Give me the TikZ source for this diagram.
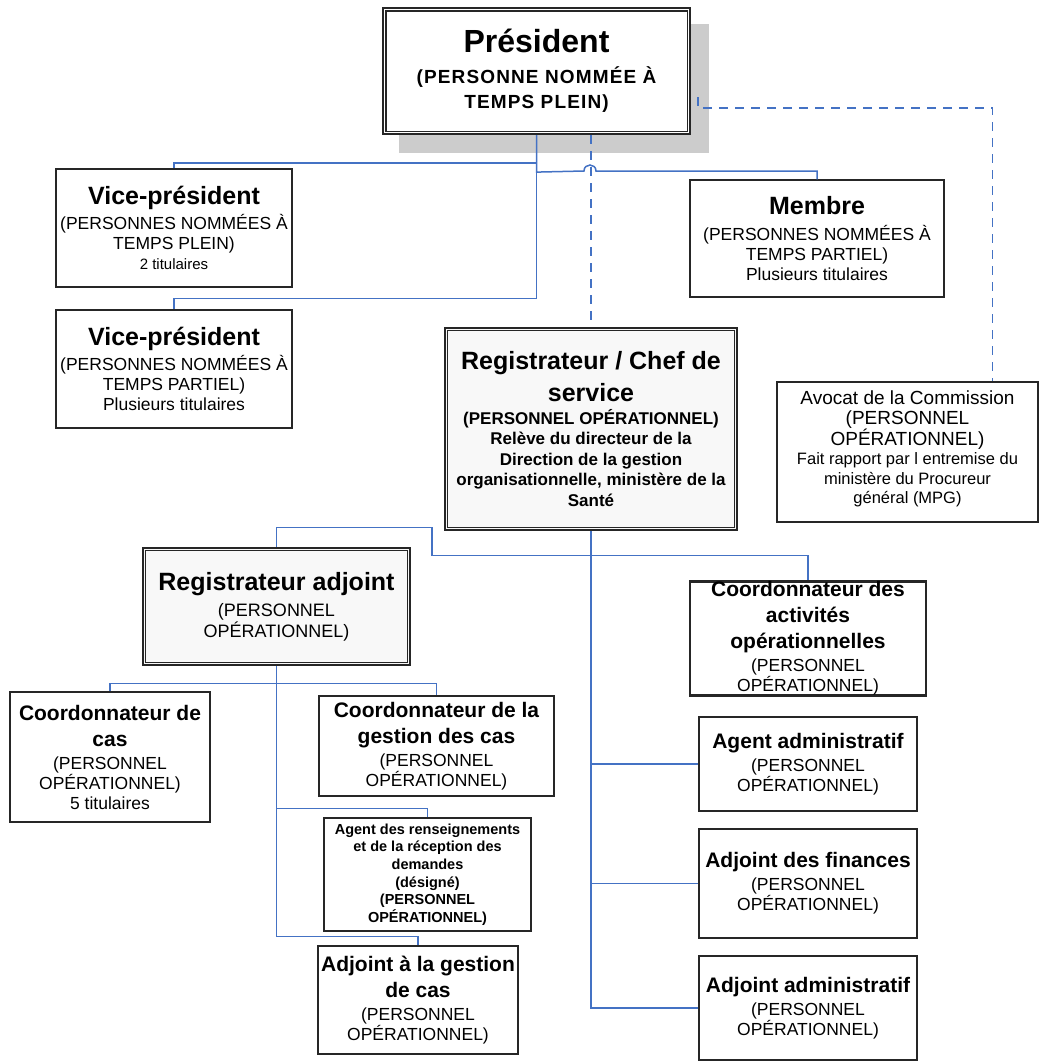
\documentclass[tikz,border=0pt]{standalone}
\usepackage{fontspec}
\setmainfont{Liberation Sans}
\usepackage{tikz}
\usetikzlibrary{calc,positioning}
\definecolor{linkblue}{RGB}{68,114,196}
\definecolor{shadowgray}{RGB}{204,204,204}
\definecolor{paleface}{RGB}{248,248,248}
\newfontfamily\spacedbold[LetterSpace=6]{Liberation Sans Bold}
\newcommand{\fpres}{\fontsize{32}{36}\selectfont\bfseries}
\newcommand{\fpressub}{\fontsize{19}{25}\spacedbold\selectfont}
\newcommand{\ftitle}{\fontsize{25}{28}\selectfont\bfseries}
\newcommand{\fsttl}{\fontsize{21}{25}\selectfont\bfseries}
\newcommand{\fbody}{\fontsize{17.5}{20}\selectfont}
\newcommand{\fbodyb}{\fontsize{17}{20.5}\selectfont\bfseries}
\newcommand{\fnote}{\fontsize{15}{18}\selectfont}
\newcommand{\fagent}{\fontsize{14.5}{17.7}\selectfont\bfseries}
\newcommand{\favo}{\fontsize{19}{19.3}\selectfont}
\newcommand{\favosm}{\fontsize{16.5}{19.3}\selectfont}

\begin{document}
\begin{tikzpicture}[x=1pt,y=-1pt,
  orgbox/.style 2 args={draw=black!85,line width=1.4pt,fill=white,align=center,
    inner sep=0pt,minimum width=#1pt,minimum height=#2pt,font=\fbody},
  link/.style={draw=linkblue,line width=1.5pt},
  dashlink/.style={link,dash pattern=on 9pt off 7pt}]
\useasboundingbox (0,0) rectangle (1039,1061);
% shadow behind the president
\fill[shadowgray] (399,24) rectangle (709,153);

% top level
\node[orgbox={307}{126},line width=2.2pt,font=\fontsize{19}{25}\selectfont] (pres) at (536.5,71)
  {\fpres Président\\[6pt]\fpressub (PERSONNE NOMMÉE À\\\fpressub TEMPS PLEIN)};
\node[orgbox={236}{118}] (vpfull) at (174,228)
  {\ftitle Vice-président\\[3pt](PERSONNES NOMMÉES À\\TEMPS PLEIN)\\\fnote 2 titulaires};
\node[orgbox={236}{118}] (vppart) at (174,369)
  {\ftitle Vice-président\\[3pt](PERSONNES NOMMÉES À\\TEMPS PARTIEL)\\Plusieurs titulaires};
\node[orgbox={254}{117}] (membre) at (817,238.5)
  {\ftitle Membre\\[6pt](PERSONNES NOMMÉES À\\TEMPS PARTIEL)\\Plusieurs titulaires};
\node[orgbox={292}{202},line width=2.6pt,fill=paleface,font=\fbodyb] (reg) at (591,429)
  {\ftitle Registrateur / Chef de\\[8pt]\ftitle service\\[2pt](PERSONNEL OPÉRATIONNEL)\\Relève du directeur de la\\
   Direction de la gestion\\organisationnelle, ministère de la\\Santé};
\node[orgbox={261}{140},font=\favo] (avocat) at (907.5,452)
  {Avocat de la Commission\\(PERSONNEL\\OPÉRATIONNEL)\\\favosm Fait rapport par l entremise du\\
   \favosm ministère du Procureur\\\favosm général (MPG)\\[-10pt]};

% registrateur adjoint and its staff
\node[orgbox={267}{117},line width=2.6pt,fill=paleface,font=\fontsize{18}{21}\selectfont] (regadj) at (276.5,606.5)
  {\ftitle Registrateur adjoint\\[5pt](PERSONNEL\\OPÉRATIONNEL)};
\node[orgbox={200}{130}] (coordcas) at (110,757)
  {\fsttl Coordonnateur de\\[6pt]\fsttl cas\\[3pt](PERSONNEL\\OPÉRATIONNEL)\\5 titulaires};
\node[orgbox={235}{100}] (coordgest) at (436.5,746)
  {\fsttl Coordonnateur de la\\[6pt]\fsttl gestion des cas\\[3pt](PERSONNEL\\OPÉRATIONNEL)};
\node[orgbox={207}{113},font=\fagent] (agentrens) at (427.5,874.5)
  {Agent des renseignements\\et de la réception des\\demandes\\(désigné)\\(PERSONNEL\\OPÉRATIONNEL)};
\node[orgbox={200}{108}] (adjgest) at (418,1000)
  {\fsttl Adjoint à la gestion\\[6pt]\fsttl de cas\\[3pt](PERSONNEL\\OPÉRATIONNEL)};

% right column under the registrateur
\node[orgbox={236}{113},line width=2.2pt] (coordact) at (808,638.5)
  {\fsttl Coordonnateur des\\[6pt]\fsttl activités\\[6pt]\fsttl opérationnelles\\[3pt](PERSONNEL\\OPÉRATIONNEL)};
\node[orgbox={218}{94}] (agentadm) at (808,764)
  {\fsttl Agent administratif\\[3pt](PERSONNEL\\OPÉRATIONNEL)};
\node[orgbox={218}{109}] (adjfin) at (808,883.5)
  {\fsttl Adjoint des finances\\[3pt](PERSONNEL\\OPÉRATIONNEL)};
\node[orgbox={218}{104}] (adjadm) at (808,1008)
  {\fsttl Adjoint administratif\\[3pt](PERSONNEL\\OPÉRATIONNEL)};

% inner line of the double frames
\foreach \n in {pres,reg,regadj}
  \draw[black!85,line width=1.2pt] ([xshift=4pt,yshift=-4pt]\n.north west) rectangle ([xshift=-4pt,yshift=4pt]\n.south east);

% solid links
\draw[link] (pres.south) -- ++(0,28) -| (vpfull.north);
\draw[link] (pres.south) |- ([yshift=11pt]vppart.north) -- (vppart.north);
\draw[link] (pres.south) -- ++(0,37) -- (584,171) .. controls (584,163) and (596,163) .. (596,171) -| (membre.north);
\draw[link] (reg.south) -- ++(0,24) -| (coordact.north);
\draw[link] (reg.south) -- ++(0,24) -| ++(-159,-28) -| (regadj.north);
\draw[link] (reg.south) |- (agentadm.west);
\draw[link] (reg.south) |- (adjfin.west);
\draw[link] (reg.south) |- (adjadm.west);
\draw[link] (regadj.south) -- ++(0,17) -| (coordcas.north);
\draw[link] (regadj.south) -- ++(0,17) -| (coordgest.north);
\draw[link] (regadj.south) |- ([yshift=9pt]agentrens.north) -- (agentrens.north);
\draw[link] (regadj.south) |- ([yshift=9pt]adjgest.north) -- (adjgest.north);

% dashed links
\coordinate (avstart) at (698,97);
\draw[dashlink] (pres.south -| reg.north) -- (reg.north);
\draw[dashlink] (avstart) -- ++(0,11) -| ([xshift=-46pt]avocat.north east);
\end{tikzpicture}
\end{document}
